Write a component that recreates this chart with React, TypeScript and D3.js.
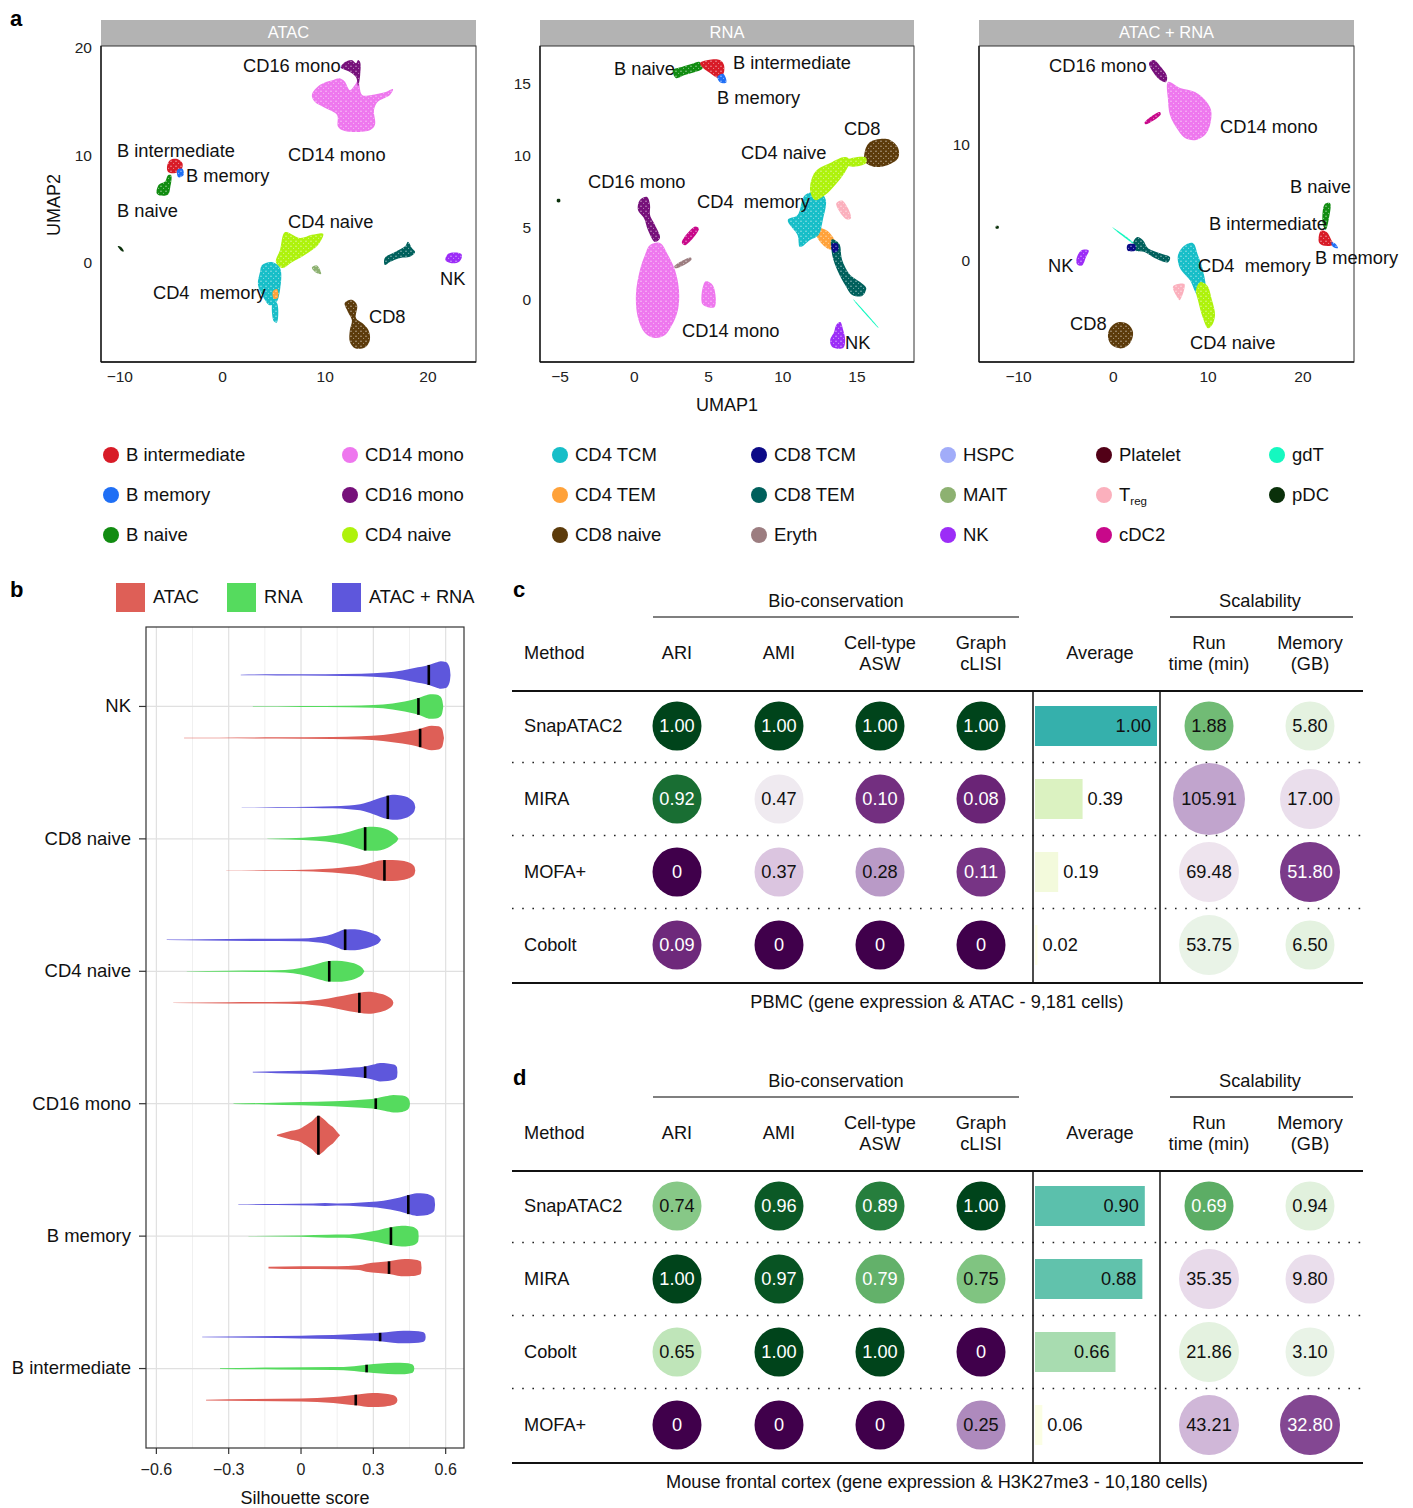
import React from 'react';
import * as d3 from 'd3';

const FONT = "'Liberation Sans', Arial, sans-serif";

// ---------- cell types ----------
const cellTypes = ['B intermediate','B memory','B naive','CD14 mono','CD16 mono','CD4 naive','CD4 TCM','CD4 TEM','CD8 naive','CD8 TCM','CD8 TEM','Eryth','HSPC','MAIT','NK','Platelet','Treg','cDC2','gdT','pDC'];
const cellColors = ['#d81b27','#1f6ff5','#118c11','#ee77ee','#76107a','#aef20c','#17bec8','#ffa23a','#5c3b0b','#0c0a87','#00605c','#9c7d80','#a1acf9','#8db171','#9c2df7','#520017','#fbb0bd','#c8088a','#15f8c0','#0a300a'];
const colorOf = d3.scaleOrdinal<string, string>().domain(cellTypes).range(cellColors);

// ---------- UMAP cluster outlines (data coordinates) ----------
type Cl = [string, number[][]];
const atacClusters: Cl[] = [
  ['CD14 mono', [[8.7,15.65],[9.5,16.6],[10.8,17.05],[11.4,17.2],[11.9,16.9],[12.4,16.1],[12.9,16.6],[13.2,17.0],[13.6,15.65],[14.5,15.65],[15.8,15.9],[16.6,16.2],[16.3,15.65],[15.1,15.0],[14.75,14.26],[14.85,12.9],[14.4,12.4],[11.9,12.3],[11.25,12.7],[11.15,13.8],[10.0,14.45],[9.0,15.0]]],
  ['CD16 mono', [[11.5,18.2],[11.9,18.7],[12.6,18.9],[13.0,18.6],[13.2,18.9],[13.4,18.7],[13.4,17.5],[13.2,16.5],[13.0,17.3],[12.4,17.8],[11.9,18.0]]],
  ['B naive', [[-6.4,6.5],[-6.2,7.3],[-5.6,7.6],[-5.3,8.2],[-5.0,8.2],[-5.1,7.0],[-5.3,6.4],[-6.0,6.3]]],
  ['B intermediate', [[-5.4,9.0],[-5.1,9.6],[-4.4,9.7],[-3.9,9.3],[-4.0,8.7],[-4.6,8.4],[-5.3,8.5]]],
  ['B memory', [[-4.4,8.7],[-3.9,8.8],[-3.8,8.2],[-4.3,8.0]]],
  ['pDC', [[-10.2,1.6],[-9.9,1.55],[-9.6,1.1],[-9.85,1.15]]],
  ['CD4 naive', [[6.1,2.9],[7.55,2.35],[8.7,2.65],[9.8,2.75],[9.3,1.7],[8.0,0.77],[6.8,0.12],[5.8,-0.44],[5.2,0.12],[5.6,1.24]]],
  ['CD4 TCM', [[3.85,-0.16],[4.8,0.12],[5.6,-0.44],[5.6,-2.48],[5.2,-3.7],[4.6,-3.9],[4.0,-3.2],[3.45,-2.0],[3.65,-0.8]]],
  ['CD4 TEM', [[4.9,-2.6],[5.3,-2.4],[5.4,-3.2],[5.0,-3.3]]],
  ['CD4 TCM', [[4.9,-3.6],[5.3,-3.7],[5.3,-5.5],[5.0,-5.4]]],
  ['MAIT', [[8.7,-0.4],[9.2,-0.2],[9.6,-1.0],[9.0,-0.8]]],
  ['CD8 TEM', [[15.8,0.5],[16.8,1.05],[17.8,1.6],[18.05,2.0],[18.45,1.4],[18.75,1.05],[18.25,0.6],[17.3,0.5],[16.3,0.12],[15.8,-0.16]]],
  ['NK', [[21.7,0.3],[22.0,0.9],[22.8,1.0],[23.3,0.8],[23.1,0.2],[22.3,0.0]]],
  ['CD8 naive', [[11.9,-3.7],[12.6,-3.4],[13.1,-3.9],[13.0,-5.1],[13.6,-5.55],[14.2,-6.2],[14.35,-7.1],[13.9,-7.8],[12.9,-7.9],[12.4,-7.3],[12.4,-6.2],[12.6,-5.3],[12.2,-4.5]]],
];
const atacLabels: [string, number, number][] = [
  ['CD16 mono', 2.0, 18.35], ['CD14 mono', 6.38, 10.1], ['B intermediate', -10.27, 10.4], ['B memory', -3.55, 8.1],
  ['B naive', -10.27, 4.85], ['CD4 naive', 6.38, 3.85], ['CD4  memory', -6.77, -2.76], ['NK', 21.18, -1.46], ['CD8', 14.26, -5.0],
];

const rnaClusters: Cl[] = [
  ['B naive', [[2.6,15.97],[3.2,16.18],[3.9,16.4],[4.4,16.53],[4.6,16.1],[4.1,15.83],[3.4,15.63],[2.8,15.42]]],
  ['B intermediate', [[4.43,16.46],[4.97,16.67],[5.77,16.67],[6.04,16.32],[5.98,15.63],[5.64,15.42],[5.1,15.76],[4.63,16.11]]],
  ['B memory', [[5.6,15.5],[6.0,15.7],[6.2,15.1],[5.8,15.1]]],
  ['CD8 naive', [[15.55,10.42],[15.88,10.97],[16.56,11.18],[17.23,11.11],[17.77,10.56],[17.77,9.86],[17.09,9.38],[16.22,9.24],[15.55,9.58]]],
  ['CD4 naive', [[14.3,9.7],[15.6,9.9],[15.6,9.5],[14.4,9.3]]],
  ['CD4 TEM', [[12.2,5.0],[13.0,4.8],[13.6,3.8],[13.2,3.5],[12.4,4.2]]],
  ['CD4 TCM', [[11.5,7.29],[12.5,7.5],[12.9,6.94],[12.7,5.56],[12.4,4.5],[11.84,4.17],[11.16,3.68],[11.0,4.5],[10.34,5.56],[11.0,5.9]]],
  ['CD4 naive', [[12.18,8.89],[13.19,9.51],[14.2,9.93],[14.54,9.72],[14.2,8.89],[13.53,7.99],[12.85,7.29],[12.18,6.94],[11.84,7.64]]],
  ['CD8 TEM', [[13.3,4.2],[13.8,3.9],[14.0,2.78],[14.54,1.74],[15.21,1.25],[15.62,0.83],[15.35,0.28],[14.68,0.35],[14.2,1.04],[13.73,1.94],[13.33,3.13]]],
  ['CD8 TCM', [[13.3,3.9],[13.7,3.9],[13.7,3.4],[13.4,3.3]]],
  ['gdT', [[14.75,0.05],[16.4,-1.85],[16.45,-1.95],[14.8,-0.05]]],
  ['NK', [[13.6,-1.74],[13.87,-1.53],[14.07,-2.08],[14.2,-2.78],[14.07,-3.33],[13.33,-3.26],[13.19,-2.78],[13.46,-2.22]]],
  ['CD16 mono', [[0.38,6.94],[0.86,7.15],[1.06,6.6],[1.06,5.9],[1.39,5.21],[1.73,4.31],[1.39,4.03],[0.92,4.86],[0.65,5.69],[0.25,6.25]]],
  ['CD14 mono', [[1.06,3.82],[1.73,3.96],[2.27,3.13],[2.74,2.08],[3.01,0.69],[2.94,-0.69],[2.54,-1.74],[2.07,-2.43],[1.39,-2.64],[0.72,-2.29],[0.25,-1.25],[0.11,0.35],[0.38,2.08],[0.72,3.13]]],
  ['cDC2', [[3.2,4.0],[4.1,5.1],[4.35,4.95],[3.4,3.8]]],
  ['Eryth', [[2.7,2.35],[3.8,2.95],[3.85,2.8],[2.75,2.2]]],
  ['CD14 mono', [[4.8,1.3],[5.3,1.0],[5.4,-0.5],[4.6,-0.3]]],
  ['Treg', [[13.6,6.7],[14.0,6.9],[14.6,5.7],[14.3,5.6]]],
  ['pDC', [[-5.2,7.0],[-5.0,7.0],[-5.0,6.8],[-5.2,6.8]]],
];
const rnaLabels: [string, number, number][] = [
  ['B naive', -1.37, 16.04], ['B intermediate', 6.65, 16.46], ['B memory', 5.57, 14.03], ['CD8', 14.12, 11.875],
  ['CD4 naive', 7.19, 10.2], ['CD16 mono', -3.12, 8.19], ['CD4  memory', 4.23, 6.8], ['CD14 mono', 3.21, -2.15], ['NK', 14.19, -2.99],
];

const bothClusters: Cl[] = [
  ['CD14 mono', [[5.77,15.45],[7.04,14.93],[8.62,14.58],[9.67,13.89],[10.31,13.03],[10.2,11.73],[9.67,10.87],[8.62,10.43],[7.56,10.61],[6.82,11.3],[5.98,12.59],[5.77,13.89]]],
  ['CD16 mono', [[3.77,17.09],[4.29,17.35],[4.93,16.83],[5.66,15.96],[5.56,15.45],[4.93,15.62],[4.19,16.31]]],
  ['cDC2', [[3.3,11.95],[4.9,12.85],[5.0,12.65],[3.4,11.8]]],
  ['B naive', [[22.3,4.9],[22.86,4.99],[22.7,3.5],[22.4,2.7],[22.1,3.2]]],
  ['B intermediate', [[21.9,2.6],[22.5,2.5],[23.0,1.8],[23.2,1.4],[22.3,1.3],[21.7,1.6]]],
  ['B memory', [[23.0,1.6],[23.4,1.5],[23.7,1.1],[23.2,1.2]]],
  ['NK', [[-3.9,0.1],[-3.4,0.9],[-2.6,0.9],[-2.9,0.3],[-3.3,-0.4],[-3.8,-0.3]]],
  ['pDC', [[-12.4,3.0],[-12.1,3.0],[-12.1,2.8],[-12.4,2.8]]],
  ['gdT', [[-0.1,2.9],[2.1,1.6],[2.2,1.45],[0.0,2.8]]],
  ['CD8 TEM', [[2.08,1.53],[2.5,2.05],[3.13,1.79],[3.66,1.1],[4.93,0.67],[5.98,0.32],[5.77,-0.11],[4.4,0.23],[3.34,0.75],[2.29,0.92]]],
  ['CD8 TCM', [[1.5,1.4],[2.3,1.4],[2.3,0.9],[1.5,0.9]]],
  ['CD4 TCM', [[6.82,0.49],[7.56,1.36],[8.41,1.53],[8.93,0.49],[9.46,-0.8],[9.67,-2.53],[8.93,-2.96],[8.09,-1.67],[7.04,-0.63]]],
  ['CD4 naive', [[9.14,-1.84],[9.88,-2.1],[10.41,-3.4],[10.73,-4.7],[10.41,-5.56],[9.99,-5.82],[9.46,-4.95],[8.93,-3.4],[8.72,-2.53]]],
  ['Treg', [[6.3,-2.2],[7.5,-2.0],[7.0,-3.4],[6.8,-3.2]]],
  ['CD8 naive', [[-0.35,-5.82],[0.5,-5.3],[1.55,-5.47],[2.08,-6.16],[1.76,-7.11],[0.92,-7.55],[-0.14,-7.29],[-0.56,-6.59]]],
];
const bothLabels: [string, number, number][] = [
  ['CD16 mono', -6.78, 16.83], ['CD14 mono', 11.26, 11.56], ['B naive', 18.64, 6.37], ['B intermediate', 10.1, 3.17],
  ['B memory', 21.27, 0.23], ['NK', -6.89, -0.46], ['CD4  memory', 8.93, -0.46], ['CD8', -4.57, -5.47], ['CD4 naive', 8.09, -7.11],
];

const atacXTicks = [-10, 0, 10, 20], atacYTicks = [0, 10, 20];
const rnaXTicks = [-5, 0, 5, 10, 15], rnaYTicks = [0, 5, 10, 15];
const bothXTicks = [-10, 0, 10, 20], bothYTicks = [0, 10];

// ---------- violin data ----------
const violinCats = ['NK', 'CD8 naive', 'CD4 naive', 'CD16 mono', 'B memory', 'B intermediate'];
const violinMethods = ['ATAC', 'RNA', 'ATAC + RNA'];
const violinColors = ['#de5f57', '#55db5e', '#5e57dc'];
const scoreTicks = [-0.6, -0.3, 0, 0.3, 0.6];

const atacProfiles = [
  [[-0.485,.008],[-0.34,.015],[-0.1,.03],[0.13,.05],[0.25,.08],[0.34,.15],[0.42,.28],[0.494,.46],[0.52,.56],[0.542,.61],[0.57,.58],[0.585,.45],[0.593,0]],
  [[-0.31,.008],[-0.1,.02],[0.05,.05],[0.13,.1],[0.2,.18],[0.245,.25],[0.29,.38],[0.32,.48],[0.346,.515],[0.38,.525],[0.42,.48],[0.45,.38],[0.47,.2],[0.474,0]],
  [[-0.53,.008],[-0.3,.03],[-0.05,.05],[0.079,.15],[0.15,.3],[0.2,.42],[0.242,.5],[0.28,.55],[0.32,.48],[0.36,.32],[0.38,.12],[0.383,0]],
  [[-0.1,.03],[-0.07,.12],[-0.04,.22],[-0.01,.3],[0.02,.5],[0.045,.7],[0.072,.975],[0.09,.85],[0.114,.58],[0.135,.38],[0.148,.19],[0.162,0]],
  [[-0.135,.04],[0,.07],[0.15,.075],[0.24,.12],[0.27,.2],[0.32,.27],[0.365,.315],[0.4,.4],[0.431,.435],[0.46,.42],[0.49,.35],[0.497,.3],[0.5,0]],
  [[-0.394,.02],[-0.2,.05],[0,.075],[0.134,.15],[0.19,.22],[0.227,.265],[0.26,.32],[0.297,.35],[0.34,.33],[0.38,.25],[0.397,.12],[0.4,0]],
];
const atacMedians = [0.494, 0.346, 0.242, 0.072, 0.365, 0.227];
const rnaProfiles = [
  [[-0.2,.012],[0,.025],[0.2,.04],[0.3,.07],[0.38,.15],[0.43,.25],[0.487,.42],[0.515,.55],[0.535,.615],[0.56,.6],[0.578,.5],[0.586,.3],[0.59,0]],
  [[-0.14,.01],[-0.05,.03],[0.065,.1],[0.14,.2],[0.2,.35],[0.24,.5],[0.266,.585],[0.3,.6],[0.33,.57],[0.36,.45],[0.385,.25],[0.4,.08],[0.404,0]],
  [[-0.474,.008],[-0.3,.025],[-0.1,.05],[-0.033,.1],[0.03,.25],[0.08,.42],[0.117,.515],[0.148,.525],[0.19,.48],[0.23,.35],[0.255,.15],[0.263,0]],
  [[-0.28,.01],[-0.15,.04],[0,.08],[0.134,.125],[0.25,.2],[0.31,.265],[0.35,.37],[0.383,.435],[0.42,.41],[0.44,.32],[0.45,.15],[0.452,0]],
  [[-0.218,.01],[0,.035],[0.11,.075],[0.18,.08],[0.26,.175],[0.32,.3],[0.373,.44],[0.418,.515],[0.45,.49],[0.475,.4],[0.486,.25],[0.488,0]],
  [[-0.336,.02],[-0.1,.05],[0.134,.075],[0.22,.12],[0.272,.19],[0.33,.25],[0.39,.29],[0.43,.28],[0.46,.22],[0.468,.12],[0.47,0]],
];
const rnaMedians = [0.487, 0.266, 0.117, 0.31, 0.373, 0.272];
const bothProfiles = [
  [[-0.25,.015],[-0.1,.03],[0.1,.04],[0.25,.06],[0.35,.125],[0.42,.225],[0.47,.35],[0.53,.5],[0.56,.625],[0.58,.69],[0.6,.65],[0.612,.5],[0.618,.25],[0.62,0]],
  [[-0.246,.008],[-0.1,.015],[0.05,.03],[0.13,.05],[0.2,.09],[0.245,.15],[0.3,.35],[0.33,.48],[0.36,.585],[0.38,.625],[0.4,.62],[0.43,.55],[0.455,.4],[0.47,.2],[0.474,0]],
  [[-0.557,.008],[-0.4,.03],[-0.2,.055],[0,.07],[0.06,.12],[0.107,.2],[0.15,.38],[0.183,.515],[0.224,.525],[0.26,.45],[0.3,.3],[0.325,.12],[0.332,0]],
  [[-0.2,.02],[-0.1,.05],[0,.075],[0.134,.15],[0.22,.23],[0.266,.29],[0.3,.38],[0.328,.46],[0.36,.44],[0.385,.38],[0.398,.25],[0.4,0]],
  [[-0.26,.012],[-0.1,.025],[0.05,.05],[0.1,.075],[0.15,.05],[0.25,.1],[0.314,.15],[0.37,.25],[0.41,.35],[0.445,.475],[0.48,.565],[0.51,.55],[0.54,.45],[0.553,.3],[0.556,0]],
  [[-0.41,.01],[-0.2,.04],[0,.07],[0.134,.1],[0.27,.175],[0.328,.21],[0.38,.28],[0.425,.31],[0.47,.3],[0.505,.25],[0.515,.15],[0.517,0]],
];
const bothMedians = [0.53, 0.36, 0.183, 0.266, 0.445, 0.328];

// ---------- tables ----------
const metricHeaders = [['ARI'], ['AMI'], ['Cell-type', 'ASW'], ['Graph', 'cLISI'], ['Average'], ['Run', 'time (min)'], ['Memory', '(GB)']];

const methodsC = ['SnapATAC2', 'MIRA', 'MOFA+', 'Cobolt'];
const ariC = [1.00, 0.92, 0, 0.09];
const amiC = [1.00, 0.47, 0.37, 0];
const aswC = [1.00, 0.10, 0.28, 0];
const clisiC = [1.00, 0.08, 0.11, 0];
const avgC = [1.00, 0.39, 0.19, 0.02];
const runC = [1.88, 105.91, 69.48, 53.75];
const memC = [5.80, 17.00, 51.80, 6.50];
const runScoreC = [0.77, 0.30, 0.45, 0.54];
const memScoreC = [0.56, 0.43, 0.12, 0.56];

const methodsD = ['SnapATAC2', 'MIRA', 'Cobolt', 'MOFA+'];
const ariD = [0.74, 1.00, 0.65, 0];
const amiD = [0.96, 0.97, 1.00, 0];
const aswD = [0.89, 0.79, 1.00, 0];
const clisiD = [1.00, 0.75, 0, 0.25];
const avgD = [0.90, 0.88, 0.66, 0.06];
const runD = [0.69, 35.35, 21.86, 43.21];
const memD = [0.94, 9.80, 3.10, 32.80];
const runScoreD = [0.80, 0.42, 0.56, 0.34];
const memScoreD = [0.57, 0.43, 0.54, 0.14];

// ---------- components ----------
function UmapPanel({ title, left, right, xDom, yDom, xTicks, yTicks, clusters, labels }: any) {
  const top = 46, bottom = 362;
  const x = d3.scaleLinear().domain(xDom).range([left, right]);
  const y = d3.scaleLinear().domain(yDom).range([bottom, top]);
  const line = d3.line<number[]>().x(p => x(p[0])).y(p => y(p[1])).curve(d3.curveCatmullRomClosed.alpha(0.5));
  const clipId = 'clip' + title.replace(/[^A-Za-z]/g, '');
  const minus = (t: number) => String(t).replace('-', '\u2212');
  return (
    <g>
      <defs><clipPath id={clipId}><rect x={left} y={top} width={right - left} height={bottom - top} /></clipPath></defs>
      <rect x={left} y={20} width={right - left} height={26} fill="#b3b3b3" />
      <text x={(left + right) / 2} y={34} textAnchor="middle" dominantBaseline="middle" fill="#fff" fontSize={16.5}>{title}</text>
      <rect x={left} y={top} width={right - left} height={bottom - top} fill="#fff" stroke="#333" strokeWidth={1} />
      <g clipPath={`url(#${clipId})`}>
        {clusters.map((c: Cl, i: number) => (
          <g key={i}>
            <path d={line(c[1]) || ''} fill={colorOf(c[0])} />
            <path d={line(c[1]) || ''} fill="url(#speck)" />
          </g>
        ))}
      </g>
      {labels.map((l: any, i: number) => (
        <text key={i} x={x(l[1])} y={y(l[2]) + 1} dominantBaseline="middle" fontSize={18.3} fill="#111" style={{ whiteSpace: 'pre' }}>{l[0]}</text>
      ))}
      <line x1={left} x2={left} y1={top} y2={bottom} stroke="#111" strokeWidth={1.3} />
      <line x1={left} x2={right} y1={bottom} y2={bottom} stroke="#111" strokeWidth={1.3} />
      {xTicks.map((t: number) => (
        <text key={t} x={x(t)} y={378} textAnchor="middle" dominantBaseline="middle" fontSize={15.5} fill="#222">{minus(t)}</text>
      ))}
      {yTicks.map((t: number) => (
        <text key={t} x={left - 9} y={y(t) + 1} textAnchor="end" dominantBaseline="middle" fontSize={15.5} fill="#222">{minus(t)}</text>
      ))}
    </g>
  );
}

function Violins() {
  const x = d3.scaleLinear().domain([-0.643, 0.676]).range([146, 464]);
  const y = d3.scaleLinear().domain([0.4, 6.6]).range([627, 1448]);
  const w = d3.scaleLinear().domain([0, 1]).range([0, 20]);
  const offsets = [0.238, 0, -0.238];
  const profiles = [atacProfiles, rnaProfiles, bothProfiles];
  const medians = [atacMedians, rnaMedians, bothMedians];
  const minor = [-0.45, -0.15, 0.15, 0.45];
  const interp = (prof: number[][], m: number) => {
    for (let i = 0; i < prof.length - 1; i++) {
      if (m >= prof[i][0] && m <= prof[i + 1][0]) {
        const t = (m - prof[i][0]) / (prof[i + 1][0] - prof[i][0]);
        return prof[i][1] + t * (prof[i + 1][1] - prof[i][1]);
      }
    }
    return 0;
  };
  return (
    <g>
      {minor.map(t => <line key={t} x1={x(t)} x2={x(t)} y1={627} y2={1448} stroke="#f0f0f0" strokeWidth={1} />)}
      {scoreTicks.map(t => <line key={t} x1={x(t)} x2={x(t)} y1={627} y2={1448} stroke="#e0e0e0" strokeWidth={1.2} />)}
      {violinCats.map((c, i) => <line key={c} x1={146} x2={464} y1={y(i + 1)} y2={y(i + 1)} stroke="#e0e0e0" strokeWidth={1.2} />)}
      {violinCats.map((c, ci) => (
        <g key={c}>
          {violinMethods.map((m, mi) => {
            const yc = y(ci + 1 + offsets[mi]);
            const prof = profiles[mi][ci];
            const area = d3.area<number[]>().x(p => x(p[0])).y0(p => yc - w(p[1])).y1(p => yc + w(p[1])).curve(d3.curveMonotoneX);
            const med = medians[mi][ci];
            const hw = w(interp(prof, med));
            return (
              <g key={m}>
                <path d={area(prof) || ''} fill={violinColors[mi]} />
                <line x1={x(med)} x2={x(med)} y1={yc - hw} y2={yc + hw} stroke="#000" strokeWidth={2.6} />
              </g>
            );
          })}
        </g>
      ))}
      <rect x={146} y={627} width={318} height={821} fill="none" stroke="#333" strokeWidth={1.2} />
      {violinCats.map((c, i) => (
        <g key={c}>
          <line x1={139} x2={146} y1={y(i + 1)} y2={y(i + 1)} stroke="#333" strokeWidth={1.2} />
          <text x={131} y={y(i + 1) + 1} textAnchor="end" dominantBaseline="middle" fontSize={18.5} fill="#111">{c}</text>
        </g>
      ))}
      {scoreTicks.map(t => (
        <g key={t}>
          <line x1={x(t)} x2={x(t)} y1={1448} y2={1454} stroke="#333" strokeWidth={1.2} />
          <text x={x(t)} y={1471} textAnchor="middle" dominantBaseline="middle" fontSize={16} fill="#222">{(t === 0 ? '0' : d3.format('.1f')(t)).replace('-', '\u2212')}</text>
        </g>
      ))}
      <text x={305} y={1499} textAnchor="middle" dominantBaseline="middle" fontSize={18} fill="#111">Silhouette score</text>
      {violinMethods.map((m, i) => {
        const lx = [116, 227, 332][i];
        return (
          <g key={m}>
            <rect x={lx} y={583} width={29} height={29} fill={violinColors[i]} />
            <text x={lx + 37} y={598} dominantBaseline="middle" fontSize={18.3} fill="#111">{m}</text>
          </g>
        );
      })}
    </g>
  );
}

const fmt = (v: number) => (v === 0 ? '0' : v.toFixed(2));

function ScoreTable({ dy, methods, cols, avg, run, mem, runScore, memScore, caption }: any) {
  const rowY = d3.scaleLinear().domain([0, 3]).range([726 + dy, 945 + dy]);
  const colX = [677, 779, 880, 981, 1100, 1209, 1310];
  const barW = d3.scaleLinear().domain([0, 1]).range([0, 122]);
  const barColor = d3.scaleLinear<string>().domain([0, 0.2, 0.4, 0.66, 0.9, 1]).range(['#ffffe8', '#f2fadb', '#daf2c0', '#a8dcb0', '#5bc0ac', '#35b0ac']);
  const sizeScale = d3.scaleThreshold<number, number>().domain([10, 100]).range([24.5, 30, 36]);
  const txtCol = (t: number) => (t >= 0.78 || t <= 0.22 ? '#fff' : '#111');
  const hdrY = 654 + dy;
  const o = 1; // baseline nudge
  return (
    <g fontSize={18.2}>
      <text x={836} y={602 + dy} textAnchor="middle" dominantBaseline="middle" fill="#111">Bio-conservation</text>
      <line x1={653} x2={1019} y1={617 + dy} y2={617 + dy} stroke="#555" strokeWidth={1.6} />
      <text x={1260} y={602 + dy} textAnchor="middle" dominantBaseline="middle" fill="#111">Scalability</text>
      <line x1={1170} x2={1353} y1={617 + dy} y2={617 + dy} stroke="#333" strokeWidth={1.6} />
      <text x={524} y={hdrY} dominantBaseline="middle" fill="#111">Method</text>
      {metricHeaders.map((h, i) => (
        <g key={i}>
          {h.map((s, k) => (
            <text key={k} x={colX[i]} y={h.length === 1 ? hdrY : hdrY - 10 + k * 21} textAnchor="middle" dominantBaseline="middle" fill="#111">{s}</text>
          ))}
        </g>
      ))}
      <line x1={512} x2={1363} y1={691 + dy} y2={691 + dy} stroke="#111" strokeWidth={2} />
      <line x1={512} x2={1363} y1={983 + dy} y2={983 + dy} stroke="#111" strokeWidth={2} />
      {[0, 1, 2].map(i => (
        <line key={i} x1={512} x2={1363} y1={(rowY(i) + rowY(i + 1)) / 2} y2={(rowY(i) + rowY(i + 1)) / 2} stroke="#222" strokeWidth={1.6} strokeDasharray="1.6 8.6" />
      ))}
      <line x1={1033} x2={1033} y1={691 + dy} y2={983 + dy} stroke="#111" strokeWidth={1.5} />
      <line x1={1160} x2={1160} y1={691 + dy} y2={983 + dy} stroke="#111" strokeWidth={1.5} />
      {methods.map((m: string, r: number) => {
        const cy = rowY(r);
        const bw = barW(avg[r]);
        const inside = bw > 60;
        return (
          <g key={m}>
            <text x={524} y={cy + o} dominantBaseline="middle" fill="#111">{m}</text>
            {cols.map((col: number[], c: number) => (
              <g key={c}>
                <circle cx={colX[c]} cy={cy} r={24.5} fill={d3.interpolatePRGn(col[r])} />
                <text x={colX[c]} y={cy + o} textAnchor="middle" dominantBaseline="middle" fill={txtCol(col[r])}>{fmt(col[r])}</text>
              </g>
            ))}
            <rect x={1035} y={cy - 20} width={bw} height={40} fill={barColor(avg[r])} />
            <text x={inside ? 1035 + bw - 6 : 1035 + bw + 5} y={cy + o} textAnchor={inside ? 'end' : 'start'} dominantBaseline="middle" fill="#111">{fmt(avg[r])}</text>
            <circle cx={colX[5]} cy={cy} r={sizeScale(run[r])} fill={d3.interpolatePRGn(runScore[r])} />
            <text x={colX[5]} y={cy + o} textAnchor="middle" dominantBaseline="middle" fill={txtCol(runScore[r])}>{fmt(run[r])}</text>
            <circle cx={colX[6]} cy={cy} r={sizeScale(mem[r])} fill={d3.interpolatePRGn(memScore[r])} />
            <text x={colX[6]} y={cy + o} textAnchor="middle" dominantBaseline="middle" fill={txtCol(memScore[r])}>{fmt(mem[r])}</text>
          </g>
        );
      })}
      <text x={937} y={1003 + dy} textAnchor="middle" dominantBaseline="middle" fill="#111">{caption}</text>
    </g>
  );
}

function Legend() {
  const colXs = [111, 350, 560, 759, 948, 1104, 1277];
  const rowYs = [455, 495, 535];
  return (
    <g>
      {cellTypes.map((t, i) => {
        const cx = colXs[Math.floor(i / 3)], cy = rowYs[i % 3];
        return (
          <g key={t}>
            <circle cx={cx} cy={cy} r={8} fill={colorOf(t)} />
            {t === 'Treg' ? (
              <text x={cx + 15} y={cy + 1} dominantBaseline="middle" fontSize={18.5} fill="#111">T<tspan fontSize={11.5} dy={6}>reg</tspan></text>
            ) : (
              <text x={cx + 15} y={cy + 1} dominantBaseline="middle" fontSize={18.5} fill="#111">{t}</text>
            )}
          </g>
        );
      })}
    </g>
  );
}

export default function App() {
  return (
    <svg width={1413} height={1508} style={{ position: 'absolute', left: 0, top: 0, background: '#fff' }} fontFamily={FONT}>
      <defs>
        <pattern id="speck" width="5" height="5" patternUnits="userSpaceOnUse">
          <circle cx="1" cy="1.2" r="0.7" fill="#fff" opacity="0.65" />
          <circle cx="3.6" cy="3.4" r="0.55" fill="#fff" opacity="0.5" />
        </pattern>
      </defs>
      <rect x={0} y={0} width={1413} height={1508} fill="#fff" />
      <text x={10} y={26} fontSize={22} fontWeight={900} fill="#000">a</text>
      <text x={10} y={597} fontSize={22} fontWeight={900} fill="#000">b</text>
      <text x={513} y={597} fontSize={22} fontWeight={900} fill="#000">c</text>
      <text x={513} y={1085} fontSize={22} fontWeight={900} fill="#000">d</text>

      <UmapPanel title="ATAC" left={101} right={476} xDom={[-11.83, 24.68]} yDom={[-9.18, 20.21]} xTicks={atacXTicks} yTicks={atacYTicks} clusters={atacClusters} labels={atacLabels} />
      <UmapPanel title="RNA" left={540} right={914} xDom={[-6.35, 18.84]} yDom={[-4.31, 17.64]} xTicks={rnaXTicks} yTicks={rnaYTicks} clusters={rnaClusters} labels={rnaLabels} />
      <UmapPanel title="ATAC + RNA" left={979} right={1354} xDom={[-14.17, 25.39]} yDom={[-8.73, 18.56]} xTicks={bothXTicks} yTicks={bothYTicks} clusters={bothClusters} labels={bothLabels} />
      <text x={727} y={406} textAnchor="middle" dominantBaseline="middle" fontSize={18} fill="#111">UMAP1</text>
      <text transform="translate(55,205) rotate(-90)" textAnchor="middle" dominantBaseline="middle" fontSize={18} fill="#111">UMAP2</text>

      <Legend />
      <Violins />
      <ScoreTable dy={0} methods={methodsC} cols={[ariC, amiC, aswC, clisiC]} avg={avgC} run={runC} mem={memC} runScore={runScoreC} memScore={memScoreC} caption="PBMC (gene expression & ATAC - 9,181 cells)" />
      <ScoreTable dy={480} methods={methodsD} cols={[ariD, amiD, aswD, clisiD]} avg={avgD} run={runD} mem={memD} runScore={runScoreD} memScore={memScoreD} caption="Mouse frontal cortex (gene expression & H3K27me3 - 10,180 cells)" />
    </svg>
  );
}
